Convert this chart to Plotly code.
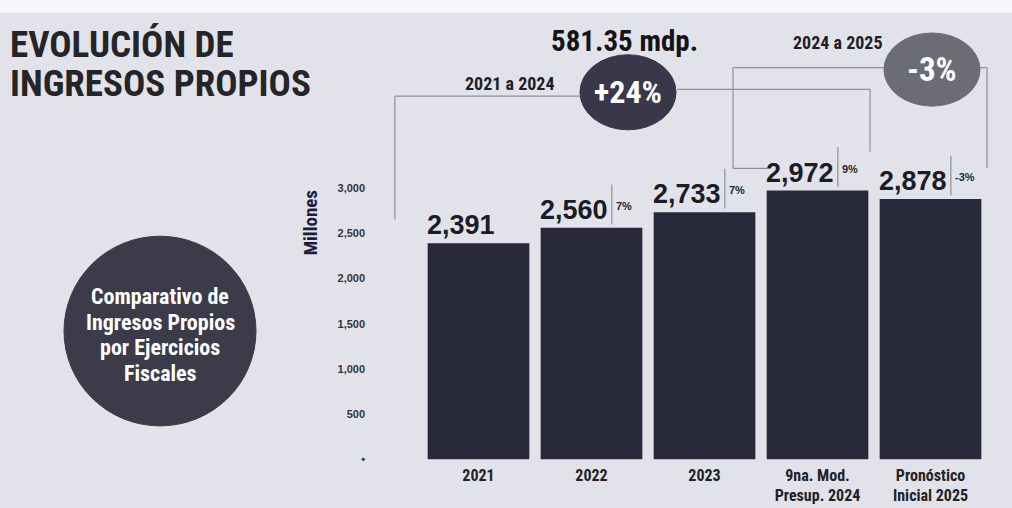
import plotly.graph_objects as go

# ---------------- data ----------------
categories = ["2021", "2022", "2023", "9na. Mod.<br>Presup. 2024", "Pronóstico<br>Inicial 2025"]
values = [2391, 2560, 2733, 2972, 2878]
value_text = ["2,391", "2,560", "2,733", "2,972", "2,878"]
change_text = ["", "7%", "7%", "9%", "-3%"]
ytick_vals = [0, 500, 1000, 1500, 2000, 2500, 3000]
ytick_text = ["•", "500", "1,000", "1,500", "2,000", "2,500", "3,000"]
title_lines = ["EVOLUCIÓN DE", "INGRESOS PROPIOS"]
total_text = "581.35 mdp."
span1_label, span1_change = "2021 a 2024", "+24%"
span2_label, span2_change = "2024 a 2025", "-3%"
circle_lines = ["Comparativo de", "Ingresos Propios", "por Ejercicios", "Fiscales"]
y_title = "Millones"

# ---------------- style ----------------
W, H = 1012, 508
BG = "#e2e3ea"
BAR = "#28293b"
LINE = "#8f8f99"
COND = "Noto Sans Condensed, Roboto Condensed, Liberation Sans Narrow, Liberation Sans, sans-serif"
SANS = "Liberation Sans, Arial, sans-serif"


def px(x):
    return x / W


def py(y):
    return 1 - y / H


fig = go.Figure(
    go.Bar(
        x=categories,
        y=values,
        width=0.9,
        marker=dict(color=BAR, line=dict(width=0)),
        hoverinfo="skip",
    )
)

fig.update_layout(
    width=W,
    height=H,
    margin=dict(l=0, r=0, t=0, b=0),
    paper_bgcolor=BG,
    plot_bgcolor="rgba(0,0,0,0)",
    showlegend=False,
    xaxis=dict(
        domain=[0.3835, 0.9809],
        range=[-0.8, 4.55],
        showgrid=False,
        zeroline=False,
        showline=False,
        ticks="",
        tickfont=dict(family=COND, size=16, color="#222226", weight="bold"),
        ticklabelstandoff=4,
    ),
    yaxis=dict(
        domain=[0.0846, 0.986],
        range=[0, 5000],
        tickvals=ytick_vals,
        ticktext=ytick_text,
        showgrid=False,
        zeroline=False,
        showline=False,
        ticks="",
        tickfont=dict(family=SANS, size=11, color="#34343a", weight="bold"),
        ticklabelstandoff=22,
    ),
)

shapes = []
shapes.append(dict(type="rect", xref="paper", yref="paper", x0=0, x1=1, y0=py(13), y1=1,
                   fillcolor="#f7f7f9", line=dict(width=0), layer="below"))

line_style = dict(color=LINE, width=1.2)


def seg(x0, y0, x1, y1):
    shapes.append(dict(type="line", xref="x", yref="y", x0=x0, y0=y0, x1=x1, y1=y1, line=line_style))


for i in range(1, len(values)):
    seg(i + 0.18, values[i] + 40, i + 0.18, values[i] + 480)

seg(-0.74, values[0] + 260, -0.74, 4015)
seg(-0.74, 4015, 0.9, 4015)
seg(1.76, 4091, 3.465, 4091)
seg(3.465, 4091, 3.465, values[3] + 430)
seg(2.553, 3218, 2.252, 3218)
seg(2.252, 3218, 2.252, 4331)
seg(2.252, 4331, 3.6, 4331)
seg(4.43, 4331, 4.5, 4331)
seg(4.5, 4331, 4.5, 3218)

shapes.append(dict(type="circle", xref="x", yref="y", x0=0.898, x1=1.748, y0=3643, y1=4473,
                   fillcolor="#39384a", line=dict(color="#39384a", width=1)))
shapes.append(dict(type="circle", xref="x", yref="y", x0=3.588, x1=4.438, y0=3905, y1=4713,
                   fillcolor="#6c6c77", line=dict(color="#6c6c77", width=1)))
shapes.append(dict(type="circle", xref="paper", yref="paper", x0=px(64), x1=px(256),
                   y0=py(431), y1=py(239), fillcolor="#3b3b49", line=dict(color="#3b3b49", width=1)))

fig.update_layout(shapes=shapes)

ann = []


def note(x, y, text, font, xanchor="center", yanchor="middle", **kw):
    ann.append(dict(x=x, y=y, text=text, showarrow=False, font=font,
                    xanchor=xanchor, yanchor=yanchor, **kw))


for i, (v, t) in enumerate(zip(values, value_text)):
    note(i - 0.47, v, t, dict(family=SANS, size=27, color="#1c1c26", weight="bold"),
         xanchor="left", yanchor="bottom", xref="x", yref="y", yshift=1)
    if change_text[i]:
        note(i + 0.2, v, change_text[i], dict(family=SANS, size=11, color="#26262e", weight="bold"),
             xanchor="left", yanchor="middle", xref="x", yref="y", yshift=22)

note(1.323, 4058, span1_change, dict(family=COND, size=32, color="white", weight="bold"),
     xref="x", yref="y")
note(4.013, 4309, span2_change, dict(family=COND, size=33, color="white", weight="bold"),
     xref="x", yref="y")
note(px(510), py(85), span1_label, dict(family=COND, size=18, color="#1e1e24", weight="bold"),
     xref="paper", yref="paper")
note(px(838), py(43), span2_label, dict(family=COND, size=18, color="#1e1e24", weight="bold"),
     xref="paper", yref="paper")
note(px(624), py(41), total_text, dict(family=COND, size=29, color="#141418", weight="bold"),
     xref="paper", yref="paper")

note(px(8), py(45), title_lines[0], dict(family=COND, size=37, color="#252528", weight="bold"),
     xanchor="left", xref="paper", yref="paper")
note(px(8), py(85), title_lines[1], dict(family=COND, size=37, color="#252528", weight="bold"),
     xanchor="left", xref="paper", yref="paper")

for k, line in enumerate(circle_lines):
    note(px(160), py(300 + 26 * k), line, dict(family=COND, size=22, color="white", weight="bold"),
         xref="paper", yref="paper")

note(px(310), py(226), y_title, dict(family=COND, size=19, color="#1f1d3d", weight="bold"),
     xref="paper", yref="paper", textangle=-90)

fig.update_layout(annotations=ann)

fig.write_html(
    "out.html",
    config={"displayModeBar": False},
    post_script="document.body.style.margin='0';document.body.style.overflow='hidden';",
)
